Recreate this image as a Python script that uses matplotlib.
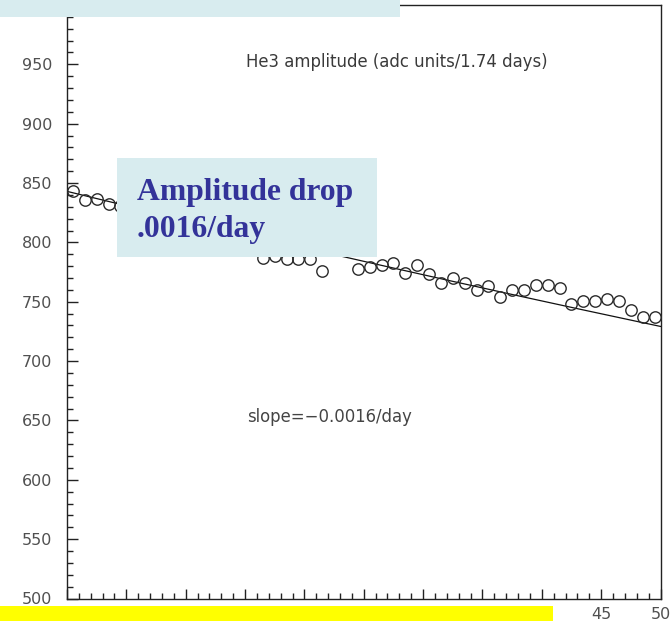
import numpy as np
import matplotlib
matplotlib.use("Agg")
import matplotlib.pyplot as plt
from matplotlib.patches import Rectangle
from matplotlib.ticker import MultipleLocator

# ---- data ----
day = [0.5, 1.5, 2.5, 3.5, 4.5,
       16.5, 17.5, 18.5, 19.5, 20.5, 21.5,
       24.5, 25.5, 26.5, 27.5, 28.5, 29.5, 30.5, 31.5, 32.5, 33.5,
       34.5, 35.5, 36.5, 37.5, 38.5, 39.5, 40.5, 41.5, 42.5, 43.5,
       44.5, 45.5, 46.5, 47.5, 48.5, 49.5]
amplitude = [843, 835.5, 836.3, 832.1, 830.7,
             787.0, 788.7, 786.4, 785.9, 786.4, 775.5,
             777.5, 779.4, 780.8, 782.5, 773.8, 780.8, 773.3, 765.7, 769.9, 766.2,
             759.8, 762.9, 753.6, 760.1, 760.1, 764.3, 764.3, 761.5, 748.1, 750.8,
             750.8, 752.3, 750.3, 743.3, 737.4, 737.4]
fit_amp = 843.0
fit_rate = 0.0029
fit_range = [0, 50]

y_ticks = [500, 550, 600, 650, 700, 750, 800, 850, 900, 950]
x_ticks = [0, 5, 10, 15, 20, 25, 30, 35, 40, 45, 50]

title_text = "He3 amplitude (adc units/1.74 days)"
slope_text = "slope=\u22120.0016/day"
box_line1 = "Amplitude drop"
box_line2 = ".0016/day"

W, H = 672, 621
fig = plt.figure(figsize=(W / 100, H / 100), dpi=100)
fig.patch.set_facecolor("white")

def fx(px):
    return px / W

def fy(py):
    return 1 - py / H

ax = fig.add_axes([fx(67), fy(598.5), (660.5 - 67) / W, (598.5 - 5) / H])
ax.set_xlim(0, 50)
ax.set_ylim(500, 1000)

# fit curve
xf = np.linspace(fit_range[0], fit_range[1], 200)
ax.plot(xf, fit_amp * np.exp(-fit_rate * xf), color="#111111", lw=0.9, zorder=2)
# data points
ax.plot(day, amplitude, linestyle="none", marker="o", ms=8.2, mfc="none",
        mec="#2a2a2a", mew=1.0, zorder=3)

for s in ax.spines.values():
    s.set_color("#222222")
    s.set_linewidth(1.0)

ax.set_yticks(y_ticks)
ax.set_xticks(x_ticks)
ax.yaxis.set_minor_locator(MultipleLocator(10))
ax.xaxis.set_minor_locator(MultipleLocator(1))
ax.tick_params(axis="both", which="both", direction="in", top=False, right=False,
               colors="#222222", width=1.0)
ax.tick_params(axis="y", which="major", length=7.7, pad=10.5, labelsize=11.5,
               labelcolor="#505050")
ax.tick_params(axis="y", which="minor", length=4.1)
ax.tick_params(axis="x", which="major", length=7.2, pad=6.3, labelsize=11.5,
               labelcolor="#505050")
ax.tick_params(axis="x", which="minor", length=4.0)

ax.text(15.09, 951.7, title_text, fontsize=11.9, color="#3a3a3a",
        ha="left", va="center", family="DejaVu Sans")
ax.text(15.15, 652.5, slope_text, fontsize=11.9, color="#444444",
        ha="left", va="center", family="DejaVu Sans")

# overlay boxes (figure level, above the axes)
box_col = "#d8ecef"
fig.patches.append(Rectangle((0, fy(17)), fx(400), 17 / H, transform=fig.transFigure,
                             facecolor=box_col, edgecolor="none", zorder=5))
fig.patches.append(Rectangle((0, 0), fx(553), 14.8 / H, transform=fig.transFigure,
                             facecolor="#ffff00", edgecolor="none", zorder=5))
fig.patches.append(Rectangle((fx(117), fy(256.5)), 260 / W, 98.5 / H,
                             transform=fig.transFigure, facecolor=box_col,
                             edgecolor="none", zorder=5))
fig.text(fx(137), fy(200), box_line1, fontsize=22.8, fontweight="bold",
         family="Liberation Serif", color="#333399", ha="left", va="baseline", zorder=6)
fig.text(fx(137), fy(236.5), box_line2, fontsize=22.8, fontweight="bold",
         family="Liberation Serif", color="#333399", ha="left", va="baseline", zorder=6)

fig.savefig("out.png", dpi=100)
